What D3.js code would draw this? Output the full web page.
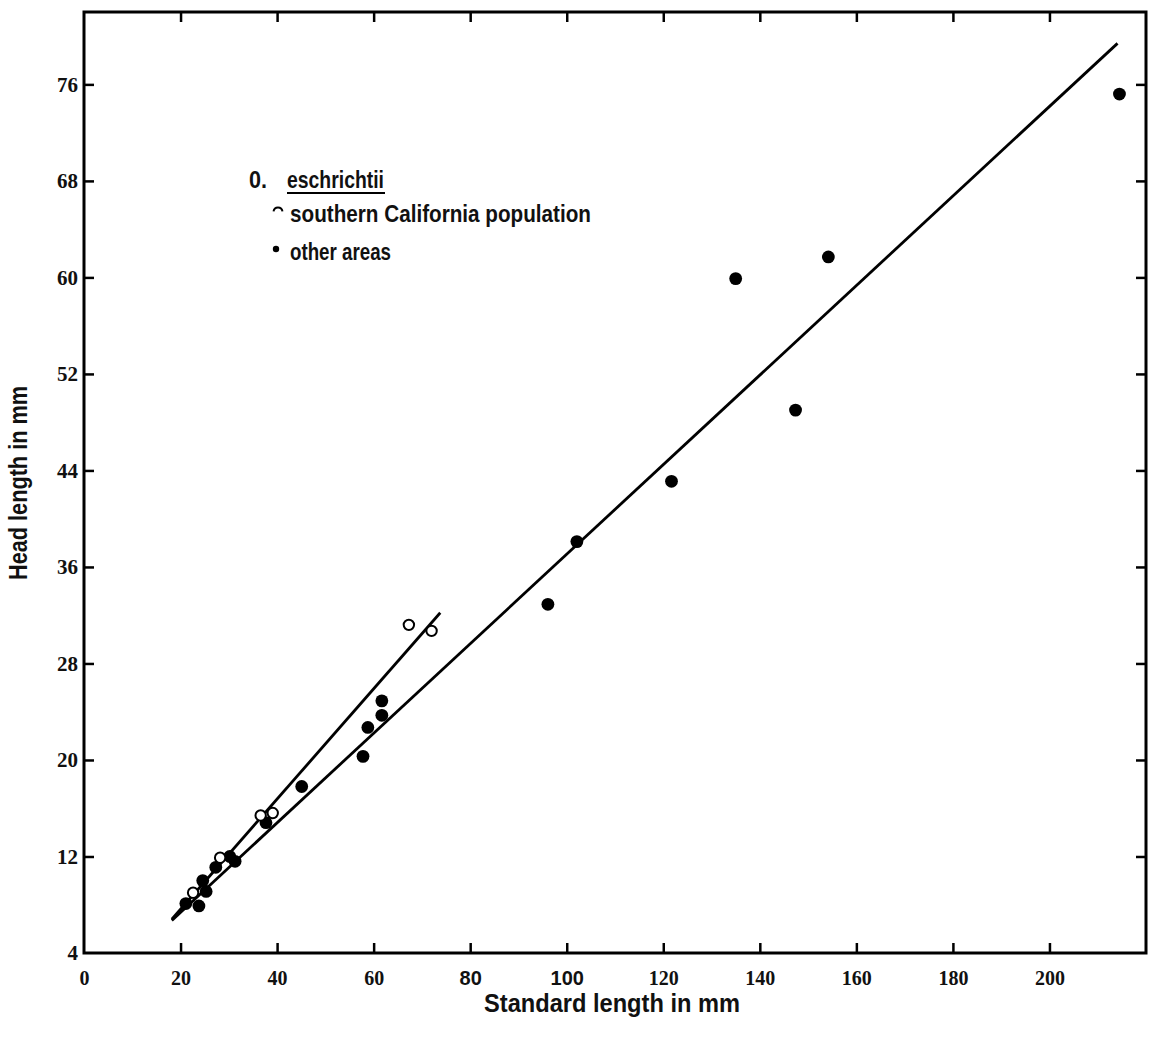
<!DOCTYPE html>
<html>
<head>
<meta charset="utf-8">
<script src="https://cdn.jsdelivr.net/npm/d3@7"></script>
<style>
  html, body { margin: 0; padding: 0; background: #fff; }
  svg { display: block; }
  .tick-label { font-family: "Liberation Serif", "Times New Roman", serif; font-weight: bold; fill: #111; }
  .sans { font-family: "Liberation Sans Narrow", "Liberation Sans", Arial, sans-serif; font-weight: bold; fill: #111; }
</style>
</head>
<body>
<script>
// Standard length vs head length, Orthonopias eschrichtii
const xTicks = [0, 20, 40, 60, 80, 100, 120, 140, 160, 180, 200];
const yTicks = [4, 12, 20, 28, 36, 44, 52, 60, 68, 76];

// southern California population (open circles): [standard length, head length]
const southernCA = [
  [22.6, 9.0], [28.2, 11.9], [36.6, 15.4], [39.1, 15.6], [67.3, 31.2], [72.0, 30.7]
];

// other areas (filled circles)
const otherAreas = [
  [21.1, 8.1], [23.8, 7.9], [24.6, 10.0], [25.3, 9.1], [27.3, 11.1], [30.2, 12.0],
  [31.3, 11.6], [37.7, 14.8], [45.1, 17.8], [57.8, 20.3], [58.8, 22.7], [61.7, 23.7],
  [61.7, 24.9], [96.1, 32.9], [102.1, 38.1], [121.7, 43.1], [135.0, 59.9], [147.4, 49.0],
  [154.2, 61.7], [214.5, 75.2]
];

// fitted regression lines, end points
const lineSouthernCA = [[18.2, 6.8], [73.8, 32.2]];
const lineOtherAreas = [[18.2, 6.7], [214.1, 79.4]];

const W = 1151, H = 1041;
const plotL = 84, plotR = 1146, plotT = 12, plotB = 953;

const svg = d3.select("body").append("svg").attr("width", W).attr("height", H);

const x = d3.scaleLinear().domain([0, 220]).range([plotL, plotR]);
const y = d3.scaleLinear().domain([4, 82]).range([plotB, plotT]);

// frame
svg.append("rect")
  .attr("x", plotL).attr("y", plotT)
  .attr("width", plotR - plotL).attr("height", plotB - plotT)
  .attr("fill", "none").attr("stroke", "#000").attr("stroke-width", 3);

const tickLen = 10;
function styleAxis(g) {
  g.select(".domain").remove();
  g.selectAll(".tick line").attr("stroke", "#000").attr("stroke-width", 2.5);
}

// bottom axis
const gx = svg.append("g").attr("transform", `translate(0,${plotB})`)
  .call(d3.axisBottom(x).tickValues(xTicks).tickSizeInner(-tickLen).tickSizeOuter(0).tickPadding(18));
styleAxis(gx);
gx.selectAll(".tick line").filter(d => d === 0).remove();
gx.selectAll(".tick text")
  .attr("class", d => (d === 80 || d === 100) ? "sans" : "tick-label")
  .attr("font-size", 20)
  .attr("dy", "0.71em")
  .attr("y", 18);

// top axis (ticks only)
const gxt = svg.append("g").attr("transform", `translate(0,${plotT})`)
  .call(d3.axisTop(x).tickValues(xTicks.filter(d => d > 0)).tickSizeInner(-tickLen).tickSizeOuter(0).tickFormat(""));
styleAxis(gxt);

// left axis
const gy = svg.append("g").attr("transform", `translate(${plotL},0)`)
  .call(d3.axisLeft(y).tickValues(yTicks).tickSizeInner(-tickLen).tickSizeOuter(0).tickPadding(6));
styleAxis(gy);
gy.selectAll(".tick line").filter(d => d === 4).remove();
gy.selectAll(".tick text")
  .attr("class", "tick-label")
  .attr("font-size", 21)
  .attr("x", -6);

// right axis (ticks only)
const gyr = svg.append("g").attr("transform", `translate(${plotR},0)`)
  .call(d3.axisRight(y).tickValues(yTicks.filter(d => d > 4)).tickSizeInner(-tickLen).tickSizeOuter(0).tickFormat(""));
styleAxis(gyr);

// regression lines
const line = d3.line().x(d => x(d[0])).y(d => y(d[1]));
[lineOtherAreas, lineSouthernCA].forEach(seg => {
  svg.append("path").attr("d", line(seg))
    .attr("fill", "none").attr("stroke", "#000").attr("stroke-width", 2.8);
});

// points
svg.append("g").selectAll("circle").data(otherAreas).join("circle")
  .attr("cx", d => x(d[0])).attr("cy", d => y(d[1])).attr("r", 6.4)
  .attr("fill", "#000");
svg.append("g").selectAll("circle").data(southernCA).join("circle")
  .attr("cx", d => x(d[0])).attr("cy", d => y(d[1])).attr("r", 5.2)
  .attr("fill", "#fff").attr("stroke", "#000").attr("stroke-width", 2);

// legend
const lg = svg.append("g");
lg.append("text").attr("class", "sans").attr("x", 249).attr("y", 188)
  .attr("font-size", 24).attr("textLength", 18).attr("lengthAdjust", "spacingAndGlyphs")
  .text("0.");
lg.append("text").attr("class", "sans").attr("x", 287).attr("y", 188)
  .attr("font-size", 24).attr("textLength", 97).attr("lengthAdjust", "spacingAndGlyphs")
  .text("eschrichtii");
lg.append("line").attr("x1", 287).attr("x2", 385).attr("y1", 193).attr("y2", 193)
  .attr("stroke", "#000").attr("stroke-width", 2);

// open-circle legend mark (upper arc)
lg.append("path")
  .attr("d", d3.arc()({ innerRadius: 3.5, outerRadius: 5.5, startAngle: -Math.PI / 2.2, endAngle: Math.PI / 2.2 }))
  .attr("transform", "translate(278,212)")
  .attr("fill", "#000");
lg.append("text").attr("class", "sans").attr("x", 290).attr("y", 222)
  .attr("font-size", 24).attr("textLength", 301).attr("lengthAdjust", "spacingAndGlyphs")
  .text("southern California population");

lg.append("circle").attr("cx", 276).attr("cy", 249).attr("r", 3.2).attr("fill", "#000");
lg.append("text").attr("class", "sans").attr("x", 290).attr("y", 260)
  .attr("font-size", 24).attr("textLength", 101).attr("lengthAdjust", "spacingAndGlyphs")
  .text("other areas");

// axis titles
svg.append("text").attr("class", "sans")
  .attr("x", 612).attr("y", 1012).attr("text-anchor", "middle")
  .attr("font-size", 25).attr("textLength", 256).attr("lengthAdjust", "spacingAndGlyphs")
  .text("Standard length in mm");
svg.append("text").attr("class", "sans")
  .attr("transform", "translate(27,483) rotate(-90)")
  .attr("text-anchor", "middle")
  .attr("font-size", 25).attr("textLength", 194).attr("lengthAdjust", "spacingAndGlyphs")
  .text("Head length in mm");
</script>
</body>
</html>
